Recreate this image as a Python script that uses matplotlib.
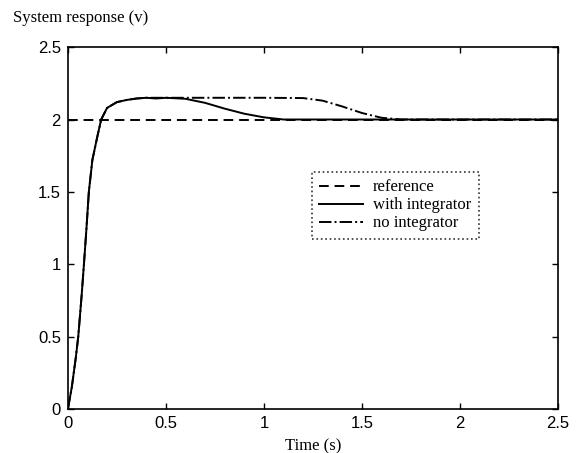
import numpy as np
import matplotlib.pyplot as plt

# reference signal
t_ref = [0.0, 2.5]
y_ref = [2.0, 2.0]

# response with integrator
t_int = [0, 0.02, 0.04, 0.053, 0.07, 0.082, 0.095, 0.107, 0.125, 0.15, 0.17, 0.2, 0.25,
         0.3, 0.35, 0.4, 0.45, 0.5, 0.6, 0.7, 0.8, 0.9, 1.0, 1.1, 1.2, 2.5]
y_int = [0, 0.15, 0.35, 0.5, 0.78, 1.0, 1.25, 1.5, 1.72, 1.88, 2.0, 2.08, 2.12,
         2.135, 2.145, 2.15, 2.145, 2.15, 2.143, 2.115, 2.075, 2.04, 2.015, 2.0, 2.0, 2.0]

# response without integrator
t_noi = [0, 0.02, 0.04, 0.053, 0.07, 0.082, 0.095, 0.107, 0.125, 0.15, 0.17, 0.2, 0.25,
         0.3, 0.35, 0.4, 0.5, 0.6, 0.8, 1.0, 1.2, 1.3, 1.4, 1.5, 1.6, 1.7, 2.5]
y_noi = [0, 0.15, 0.35, 0.5, 0.78, 1.0, 1.25, 1.5, 1.72, 1.88, 2.0, 2.08, 2.12,
         2.135, 2.145, 2.15, 2.15, 2.15, 2.15, 2.15, 2.148, 2.13, 2.09, 2.045, 2.012, 2.0, 2.0]

serif = 'Liberation Serif'
sans = 'Liberation Sans'

fig = plt.figure(figsize=(5.8, 4.53), dpi=100)
ax = fig.add_axes([0.117, 0.097, 0.845, 0.799])

ax.plot(t_ref, y_ref, '--k', lw=1.4, dashes=(5, 3), label='reference')
ax.plot(t_int, y_int, '-k', lw=1.4, label='with integrator')
ax.plot(t_noi, y_noi, '-.k', lw=1.4, label='no integrator')

ax.set_xlim(0, 2.5)
ax.set_ylim(0, 2.5)
ticks = [0, 0.5, 1, 1.5, 2, 2.5]
labels = ['0', '0.5', '1', '1.5', '2', '2.5']
ax.set_xticks(ticks)
ax.set_xticklabels(labels, fontfamily=sans, fontsize=12)
ax.set_yticks(ticks)
ax.set_yticklabels(labels, fontfamily=sans, fontsize=12)
ax.tick_params(direction='in', top=True, right=True, length=4, width=1, pad=5)
for s in ax.spines.values():
    s.set_linewidth(1.2)

ax.set_xlabel('Time (s)', fontfamily=serif, fontsize=12, labelpad=5)
fig.text(13 / 580, 1 - 18 / 453, 'System response (v)', fontfamily=serif,
         fontsize=12, va='center', ha='left')

leg = ax.legend(loc='upper left', bbox_to_anchor=(0.498, 0.655), fancybox=False,
                prop={'family': serif, 'size': 12}, handlelength=2.6,
                handletextpad=0.6, borderpad=0.45, labelspacing=0.12,
                borderaxespad=0)
fr = leg.get_frame()
fr.set_edgecolor('black')
fr.set_linestyle(':')
fr.set_linewidth(1.2)

fig.savefig('out.png', dpi=100)
